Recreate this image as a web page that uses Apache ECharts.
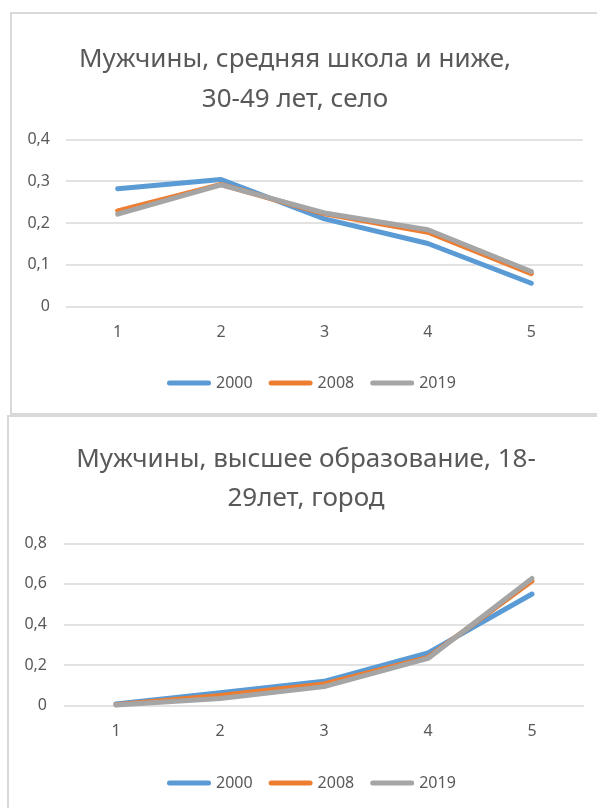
<!DOCTYPE html>
<html>
<head>
<meta charset="utf-8">
<script src="https://cdn.jsdelivr.net/npm/echarts@6/dist/echarts.min.js"></script>
<style>
  html, body { margin: 0; padding: 0; background: #ffffff; overflow: hidden; }
  #chart { width: 597px; height: 808px; }
</style>
</head>
<body>
<div id="chart"></div>
<script>
// Categories shared by both panels
const categories = ['1', '2', '3', '4', '5'];
const seriesNames = ['2000', '2008', '2019'];

// Panel 1: men, secondary school and below, 30-49, rural
const rural2000 = [0.282, 0.304, 0.21, 0.151, 0.056];
const rural2008 = [0.229, 0.292, 0.222, 0.178, 0.079];
const rural2019 = [0.221, 0.291, 0.224, 0.184, 0.084];

// Panel 2: men, higher education, 18-29, urban
const urban2000 = [0.008, 0.064, 0.12, 0.26, 0.55];
const urban2008 = [0.005, 0.05, 0.107, 0.238, 0.614];
const urban2019 = [0.003, 0.036, 0.094, 0.233, 0.627];

// Axis tick settings
const ruralAxis = { max: 0.4, interval: 0.1 };
const urbanAxis = { max: 0.8, interval: 0.2 };

const titleRural = 'Мужчины, средняя школа и ниже,\n30-49 лет, село';
const titleUrban = 'Мужчины, высшее образование, 18-\n29лет, город';

const colors = ['#5B9BD5', '#ED7D31', '#A5A5A5'];
const textColor = '#595959';
const gridColor = '#D9D9D9';
const font = "'Noto Sans', 'Open Sans', sans-serif";

const chart = echarts.init(document.getElementById('chart'), null, { renderer: 'canvas' });

const commaFmt = v => String(+v.toFixed(2)).replace('.', ',');

function xAxisFor(gridIndex) {
  return {
    type: 'category', gridIndex, data: categories, boundaryGap: true,
    axisLine: { show: false }, axisTick: { show: false },
    axisLabel: { color: textColor, fontFamily: font, fontSize: 16, margin: 18 }
  };
}
function yAxisFor(gridIndex, cfg, margin) {
  return {
    type: 'value', gridIndex, min: 0, max: cfg.max, interval: cfg.interval,
    axisLine: { show: false }, axisTick: { show: false },
    splitLine: { lineStyle: { color: gridColor, width: 1.5 } },
    axisLabel: { color: textColor, fontFamily: font, fontSize: 16, margin, formatter: commaFmt }
  };
}
function lineSeries(name, data, idx, axisIdx) {
  return {
    name, type: 'line', data, xAxisIndex: axisIdx, yAxisIndex: axisIdx,
    symbol: 'none', color: colors[idx],
    lineStyle: { width: 5, color: colors[idx], cap: 'round', join: 'round' },
    emphasis: { disabled: true }, animation: false
  };
}
const capsule = 'path://M2.5,0 L41.5,0 A2.5,2.5 0 0 1 41.5,5 L2.5,5 A2.5,2.5 0 0 1 2.5,0 Z';
function legendAt(top) {
  return {
    top, left: 162, data: seriesNames, icon: capsule, itemWidth: 44, itemHeight: 5, itemGap: 16,
    textStyle: { color: textColor, fontFamily: font, fontSize: 16 }, selectedMode: false
  };
}

chart.setOption({
  backgroundColor: '#ffffff',
  color: colors,
  animation: false,
  graphic: [
    { type: 'rect', shape: { x: 11, y: 13, width: 600, height: 401 },
      style: { fill: 'none', stroke: gridColor, lineWidth: 2 }, silent: true },
    { type: 'rect', shape: { x: 8, y: 416, width: 600, height: 420 },
      style: { fill: 'none', stroke: gridColor, lineWidth: 2 }, silent: true }
  ],
  title: [
    { text: titleRural, left: 290, top: 35, textAlign: 'center',
      textStyle: { color: textColor, fontFamily: font, fontSize: 26, fontWeight: 'normal', lineHeight: 40 } },
    { text: titleUrban, left: 301, top: 435, textAlign: 'center',
      textStyle: { color: textColor, fontFamily: font, fontSize: 26, fontWeight: 'normal', lineHeight: 39 } }
  ],
  legend: [legendAt(370), legendAt(770)],
  grid: [
    { left: 66, top: 139.3, width: 517, height: 167.4, containLabel: false },
    { left: 64, top: 543.3, width: 520, height: 162.4, containLabel: false }
  ],
  xAxis: [xAxisFor(0), xAxisFor(1)],
  yAxis: [yAxisFor(0, ruralAxis, 16), yAxisFor(1, urbanAxis, 17)],
  series: [
    lineSeries(seriesNames[0], rural2000, 0, 0),
    lineSeries(seriesNames[1], rural2008, 1, 0),
    lineSeries(seriesNames[2], rural2019, 2, 0),
    lineSeries(seriesNames[0], urban2000, 0, 1),
    lineSeries(seriesNames[1], urban2008, 1, 1),
    lineSeries(seriesNames[2], urban2019, 2, 1)
  ]
});
</script>
</body>
</html>
